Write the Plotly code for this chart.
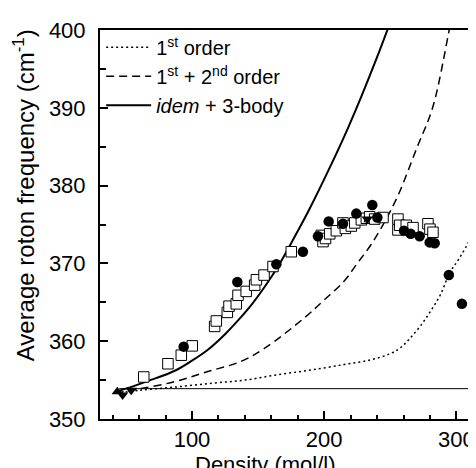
import plotly.graph_objects as go

# ---- data ----
dens_1st = [42, 61, 87, 115, 140, 165, 190, 215, 235, 250, 258, 265, 273, 281, 288, 295, 302, 311, 322]
freq_1st = [353.3, 353.7, 354.1, 354.6, 355.0, 355.7, 356.3, 357.0, 357.6, 358.4, 359.2, 360.4, 362.0, 364.0, 366.0, 368.8, 370.6, 373.3, 377.6]

dens_12 = [42, 61, 87, 112, 137, 155, 185, 200, 215, 225, 235, 245, 256, 270, 282, 294, 300]
freq_12 = [353.3, 353.9, 354.8, 356.1, 357.4, 359.1, 363.0, 365.3, 367.7, 370.0, 372.3, 375.1, 378.8, 384.8, 390.0, 399.5, 405.0]

dens_3b = [42, 50, 67, 87, 100, 112, 125, 135, 146, 155, 164, 175, 188, 205, 218, 228, 240, 250]
freq_3b = [353.5, 353.9, 354.9, 356.2, 357.5, 358.9, 360.9, 362.7, 364.9, 367.0, 369.3, 372.6, 376.7, 382.6, 387.4, 391.4, 396.5, 401.0]

dens_flat = [45, 330]
freq_flat = [353.9, 353.9]

sq_dens = [63.5, 81.8, 91.9, 100.2, 117.1, 118.4, 126.7, 128.0, 133.5, 134.8, 141.0, 147.4, 148.7,
           154.5, 161.3, 175.1, 197.8, 199.1, 201.0, 204.2, 209.2, 214.2, 216.0, 220.5, 223.1,
           228.1, 231.9, 234.4, 238.2, 244.5, 255.8, 255.8, 257.1, 262.1, 267.2, 278.5, 280.0, 282.3]
sq_freq = [355.4, 357.1, 358.2, 359.4, 361.9, 362.6, 363.7, 364.5, 364.8, 365.9, 366.4, 367.2, 367.9,
           368.5, 369.6, 371.5, 373.6, 372.8, 373.2, 373.8, 374.2, 375.2, 374.5, 374.8, 375.2,
           375.6, 375.8, 376.0, 375.7, 375.9, 375.7, 374.3, 374.9, 374.9, 374.6, 375.1, 374.4, 374.0]

ci_dens = [93.7, 134.3, 163.8, 183.9, 195.3, 203.4, 214.2, 224.3, 236.4, 240.2, 260.4, 265.4, 272.2,
           279.8, 283.6, 294.3, 304.2]
ci_freq = [359.3, 367.6, 369.9, 371.5, 373.5, 375.4, 375.1, 376.4, 377.5, 375.9, 374.2, 373.8, 373.5,
           372.7, 372.6, 368.5, 364.8]

tu_dens = [43.5]
tu_freq = [353.5]
td_dens = [47.5, 54.0, 232.6, 323.0]
td_freq = [353.1, 353.7, 375.7, 358.1]

x_ticks = [100, 200, 300]
y_ticks = [350, 360, 370, 380, 390, 400]

FONT = "Arial, Liberation Sans, Helvetica, sans-serif"

fig = go.Figure()
fig.add_trace(go.Scatter(x=dens_1st, y=freq_1st, mode="lines", line_shape="spline",
                         name="1<sup>st</sup> order",
                         line=dict(color="black", width=1.5, dash="2px,3px")))
fig.add_trace(go.Scatter(x=dens_12, y=freq_12, mode="lines", line_shape="spline",
                         name="1<sup>st</sup> + 2<sup>nd</sup> order",
                         line=dict(color="black", width=1.5, dash="8px,5px")))
fig.add_trace(go.Scatter(x=dens_3b, y=freq_3b, mode="lines", line_shape="spline",
                         name="<i>idem</i> + 3-body",
                         line=dict(color="black", width=2)))
fig.add_trace(go.Scatter(x=dens_flat, y=freq_flat, mode="lines", showlegend=False,
                         line=dict(color="black", width=1)))
fig.add_trace(go.Scatter(x=sq_dens, y=sq_freq, mode="markers", showlegend=False,
                         marker=dict(symbol="square", size=10.5, color="white",
                                     line=dict(color="black", width=1))))
fig.add_trace(go.Scatter(x=ci_dens, y=ci_freq, mode="markers", showlegend=False,
                         marker=dict(symbol="circle", size=10.5, color="black",
                                     line=dict(width=0))))
fig.add_trace(go.Scatter(x=tu_dens, y=tu_freq, mode="markers", showlegend=False,
                         marker=dict(symbol="triangle-up", size=10, color="black",
                                     line=dict(width=0))))
fig.add_trace(go.Scatter(x=td_dens, y=td_freq, mode="markers", showlegend=False,
                         marker=dict(symbol="triangle-down", size=10, color="black",
                                     line=dict(width=0))))

fig.update_layout(
    width=476, height=468,
    margin=dict(l=92, r=0, t=22, b=57),
    plot_bgcolor="white", paper_bgcolor="white",
    font=dict(family=FONT, size=22, color="black"),
    showlegend=True,
    legend=dict(x=0.003, y=1.006, xanchor="left", yanchor="top",
                bgcolor="rgba(0,0,0,0)", font=dict(size=20, family=FONT),
                itemwidth=45, tracegroupgap=0),
    xaxis=dict(range=[30.4, 320.9], tickvals=x_ticks, ticks="inside", ticklen=8,
               tickwidth=1.5, tickcolor="black", showline=True, linewidth=2,
               linecolor="black", mirror=True, showgrid=False, zeroline=False,
               minor=dict(dtick=20, tick0=0, ticks="inside", ticklen=4,
                          tickwidth=1.5, tickcolor="black", showgrid=False)),
    yaxis=dict(range=[350, 400], tickvals=y_ticks, ticks="inside", ticklen=8,
               tickwidth=1.5, tickcolor="black", showline=True, linewidth=2,
               linecolor="black", mirror=False, showgrid=False, zeroline=False,
               ticklabelstandoff=8,
               minor=dict(dtick=5, tick0=0, ticks="inside", ticklen=6,
                          tickwidth=1.5, tickcolor="black", showgrid=False)),
    annotations=[
        dict(text="Density (mol/l)", xref="paper", yref="paper", x=0.43, y=-0.118,
             xanchor="center", yanchor="middle", showarrow=False,
             font=dict(size=22, family=FONT)),
        dict(text="Average roton frequency (cm<sup>-1</sup>)", xref="paper", yref="paper",
             x=-0.198, y=0.575, xanchor="center", yanchor="middle", textangle=-90,
             showarrow=False, font=dict(size=24, family=FONT)),
    ],
)

fig.write_html("out.html")
